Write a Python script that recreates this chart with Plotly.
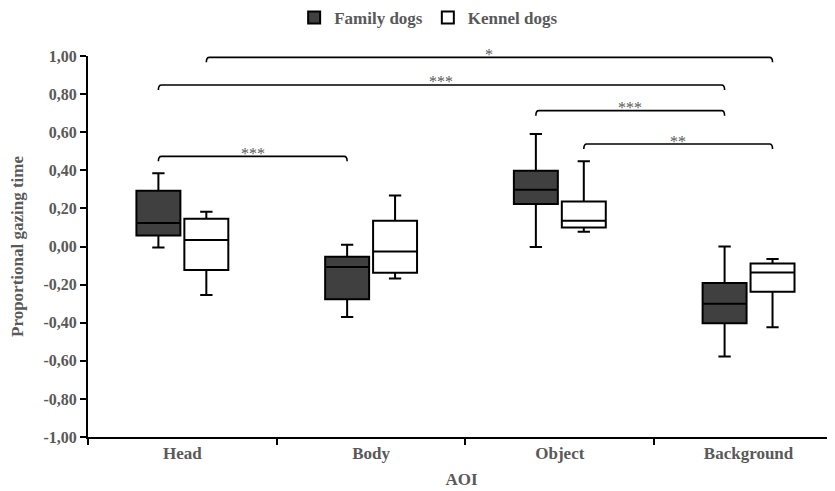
import plotly.graph_objects as go

# ---------------- data ----------------
categories = ["Head", "Body", "Object", "Background"]
group_names = ["Family dogs", "Kennel dogs"]

family_min = [-0.005, -0.370, -0.003, -0.578]
family_q1 = [0.058, -0.277, 0.223, -0.403]
family_median = [0.123, -0.107, 0.298, -0.300]
family_q3 = [0.293, -0.054, 0.398, -0.191]
family_max = [0.384, 0.009, 0.591, 0.000]

kennel_min = [-0.254, -0.168, 0.077, -0.424]
kennel_q1 = [-0.124, -0.138, 0.100, -0.238]
kennel_median = [0.034, -0.026, 0.135, -0.137]
kennel_q3 = [0.146, 0.135, 0.236, -0.089]
kennel_max = [0.182, 0.268, 0.447, -0.065]

y_tick_values = [-1.0, -0.8, -0.6, -0.4, -0.2, 0.0, 0.2, 0.4, 0.6, 0.8, 1.0]
y_tick_labels = ["-1,00", "-0,80", "-0,60", "-0,40", "-0,20", "0,00",
                 "0,20", "0,40", "0,60", "0,80", "1,00"]

# significance brackets: from (category, group index) to (category, group index), level, label
bracket_from_cat = ["Head", "Head", "Object", "Object", "Head"]
bracket_from_grp = [1, 0, 0, 1, 0]
bracket_to_cat = ["Background", "Background", "Background", "Background", "Body"]
bracket_to_grp = [1, 0, 0, 1, 0]
bracket_level = [0.993, 0.848, 0.713, 0.538, 0.473]
bracket_label = ["*", "***", "***", "**", "***"]

# ---------------- styling ----------------
FONT = "Liberation Serif"
GREY = "#595959"
BOXGAP = 0.492
BOXGROUPGAP = 0.083

fig = go.Figure()
fig.add_trace(go.Box(
    name=group_names[0], x=categories,
    lowerfence=family_min, q1=family_q1, median=family_median,
    q3=family_q3, upperfence=family_max,
    fillcolor="#404040", line=dict(color="black", width=2),
    whiskerwidth=0.28, boxpoints=False, hoverinfo="skip",
))
fig.add_trace(go.Box(
    name=group_names[1], x=categories,
    lowerfence=kennel_min, q1=kennel_q1, median=kennel_median,
    q3=kennel_q3, upperfence=kennel_max,
    fillcolor="white", line=dict(color="black", width=2),
    whiskerwidth=0.28, boxpoints=False, hoverinfo="skip",
))

# group offsets derived from box layout
slot = (1 - BOXGAP) / 2
offsets = [-slot / 2, slot / 2]

drop = 0.026
ex = 0.016
for fc, fg, tc, tg, lv, lb in zip(bracket_from_cat, bracket_from_grp, bracket_to_cat,
                                  bracket_to_grp, bracket_level, bracket_label):
    x0 = categories.index(fc) + offsets[fg]
    x1 = categories.index(tc) + offsets[tg]
    path = (f"M {x0},{lv - drop} Q {x0},{lv} {x0 + ex},{lv} "
            f"L {x1 - ex},{lv} Q {x1},{lv} {x1},{lv - drop}")
    fig.add_shape(type="path", path=path, xref="x", yref="y",
                  line=dict(color="black", width=1.6))
    fig.add_annotation(x=(x0 + x1) / 2, y=lv, xref="x", yref="y", text=lb,
                       showarrow=False, yanchor="middle", yshift=3,
                       font=dict(family=FONT, size=16, color=GREY))

# the page body has an 8px default margin: size the figure so it fits the window
fig.update_layout(
    width=827, height=483,
    margin=dict(l=80, r=0, t=48, b=54, autoexpand=False),
    paper_bgcolor="white", plot_bgcolor="white",
    boxmode="group", boxgap=BOXGAP, boxgroupgap=BOXGROUPGAP,
    font=dict(family=FONT, color=GREY, size=16),
    showlegend=True,
    legend=dict(orientation="h", xref="container", yref="container",
                x=0.346, xanchor="left", y=1 - 10 / 483, yanchor="middle",
                font=dict(family=FONT, size=17, color=GREY, weight="bold"),
                itemwidth=30, tracegroupgap=0),
)
fig.update_xaxes(
    type="category", categoryorder="array", categoryarray=categories,
    range=[-0.5, 3.458], tickson="boundaries", automargin=False,
    showline=True, linecolor="black", linewidth=2,
    ticks="outside", ticklen=6, tickwidth=2, tickcolor="black",
    showgrid=False, zeroline=False,
    tickfont=dict(family=FONT, size=17, color=GREY, weight="bold"),
    title=dict(text="AOI", font=dict(family=FONT, size=17, color=GREY, weight="bold"),
               standoff=11),
)
fig.update_yaxes(
    range=[-1.0, 1.0], tickvals=y_tick_values, ticktext=y_tick_labels,
    automargin=False,
    showline=True, linecolor="black", linewidth=2,
    ticks="outside", ticklen=6, tickwidth=2, tickcolor="black",
    showgrid=False, zeroline=False,
    tickfont=dict(family=FONT, size=16, color=GREY, weight="bold"),
    title=dict(text="Proportional gazing time",
               font=dict(family=FONT, size=17, color=GREY, weight="bold"),
               standoff=20),
)

fig.write_html("out.html")
